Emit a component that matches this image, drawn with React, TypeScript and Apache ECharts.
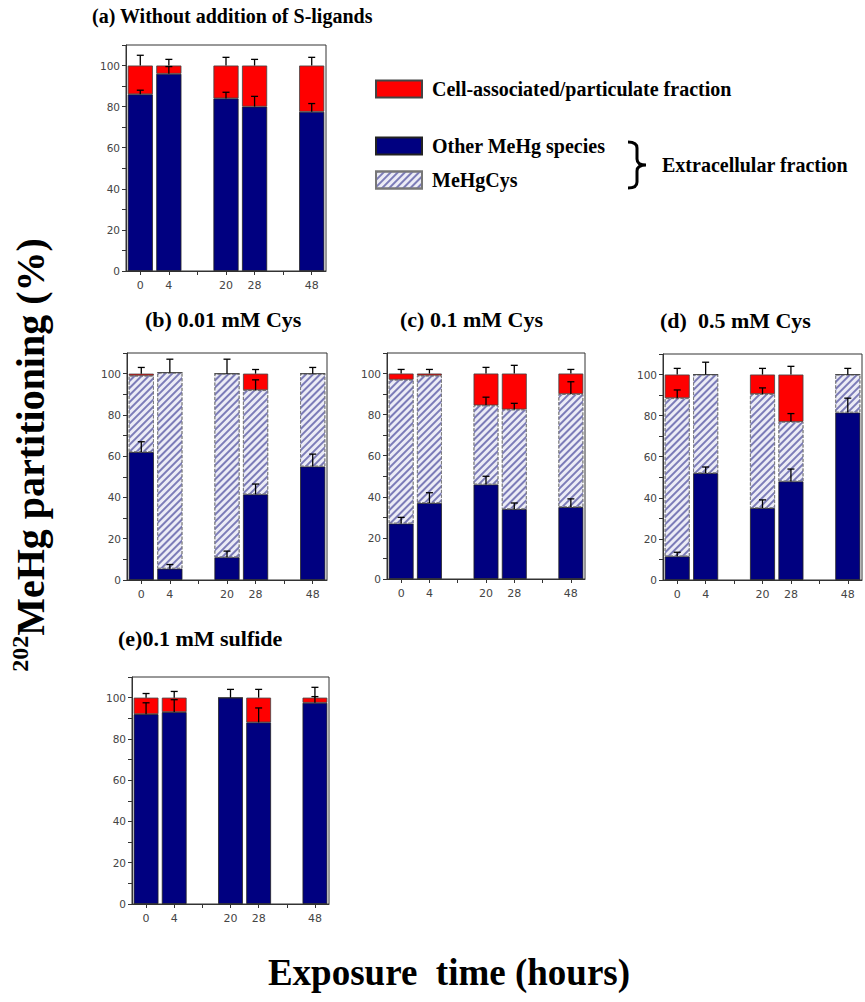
import React, { useEffect, useRef } from 'react';
import * as echarts from 'echarts';

// ---- categories (exposure time, hours); empty slots are the gaps ----
const CATEGORIES = ['0', '4', '', '20', '28', '', '48'];

// ---- (a) Without addition of S-ligands ----
const otherA = [86, 96, null, 84, 80, null, 77.5];
const cysA = [null, null, null, null, null, null, null];
const cellA = [14, 4, null, 16, 20, null, 22.5];
const otherErrA = [2, 3.5, null, 3, 5, null, 4];
const cysErrA = [null, null, null, null, null, null, null];
const cellErrA = [5, 3, null, 4, 3, null, 4];

// ---- (b) 0.01 mM Cys ----
const otherB = [62, 5.5, null, 11, 41.5, null, 55];
const cysB = [37, 95, null, 89, 50.5, null, 45];
const cellB = [1, 0, null, 0, 8, null, 0];
const otherErrB = [5, 2, null, 3, 5, null, 6];
const cysErrB = [null, 6.5, null, 7, 5, null, 3];
const cellErrB = [3, null, null, null, 2, null, null];

// ---- (c) 0.1 mM Cys ----
const otherC = [27, 37, null, 46, 34, null, 35];
const cysC = [70, 62, null, 38.5, 48.5, null, 55];
const cellC = [3, 1, null, 15.5, 17.5, null, 10];
const otherErrC = [3, 5, null, 4, 3, null, 4];
const cysErrC = [null, null, null, 4, 3, null, 6];
const cellErrC = [2, 2, null, 3, 4, null, 2];

// ---- (d) 0.5 mM Cys ----
const otherD = [11.5, 52, null, 35, 48, null, 81.5];
const cysD = [77, 48, null, 55.5, 29, null, 18.5];
const cellD = [11.5, 0, null, 9.5, 23, null, 0];
const otherErrD = [2, 3, null, 4, 6, null, 7];
const cysErrD = [4, 6, null, 3, 4, null, 3];
const cellErrD = [3, null, null, 3, 4, null, null];

// ---- (e) 0.1 mM sulfide ----
const otherE = [92, 93, null, 100, 88, null, 97.5];
const cysE = [null, null, null, null, null, null, null];
const cellE = [8, 7, null, 0, 12, null, 2.5];
const otherErrE = [5.5, 6, null, 4, 7, null, 3];
const cysErrE = [null, null, null, null, null, null, null];
const cellErrE = [2, 3, null, null, 4, null, 5];

const PANEL_TITLES = [
  '(a) Without addition of S-ligands',
  '(b) 0.01 mM Cys',
  '(c) 0.1 mM Cys',
  '(d)  0.5 mM Cys',
  '(e)0.1 mM sulfide',
];

const NAME_OTHER = 'Other MeHg species';
const NAME_CYS = 'MeHgCys';
const NAME_CELL = 'Cell-associated/particulate fraction';

const PANELS = [
  { other: otherA, cys: cysA, cell: cellA, eo: otherErrA, ec: cysErrA, ee: cellErrA, hasCys: false },
  { other: otherB, cys: cysB, cell: cellB, eo: otherErrB, ec: cysErrB, ee: cellErrB, hasCys: true },
  { other: otherC, cys: cysC, cell: cellC, eo: otherErrC, ec: cysErrC, ee: cellErrC, hasCys: true },
  { other: otherD, cys: cysD, cell: cellD, eo: otherErrD, ec: cysErrD, ee: cellErrD, hasCys: true },
  { other: otherE, cys: cysE, cell: cellE, eo: otherErrE, ec: cysErrE, ee: cellErrE, hasCys: false },
];

// layout (pixels)
const GRIDS = [
  { left: 126, top: 45, width: 200, height: 226 },
  { left: 127, top: 353, width: 200, height: 227 },
  { left: 387, top: 353, width: 198, height: 226 },
  { left: 663, top: 354, width: 199, height: 226 },
  { left: 132, top: 677, width: 197, height: 227 },
];
const TITLE_POS = [
  { x: 92, y: 16, size: 20, align: 'left' },
  { x: 145, y: 319, size: 22, align: 'left' },
  { x: 400, y: 319, size: 22, align: 'left' },
  { x: 660, y: 320, size: 22, align: 'left' },
  { x: 118, y: 638, size: 22, align: 'left' },
];

const SERIF = '"Liberation Serif", "Times New Roman", serif';
const SANS = '"DejaVu Sans", Verdana, sans-serif';
const NAVY = '#000080';
const RED = '#ff0000';

const hatchDecal = {
  symbol: 'rect',
  symbolSize: 1,
  color: '#7c7cb8',
  dashArrayX: [1, 0],
  dashArrayY: [1.2, 2.2],
  rotation: -Math.PI / 4,
};

echarts.graphic.registerShape(
  'brace',
  echarts.graphic.extendPath('M0 0 Q9 0 9 6 L9 17 Q9 23 18 23 Q9 23 9 29 L9 40 Q9 46 0 46', {})
);

function dash(v: number | null) {
  return v === null ? '-' : v;
}

function errorRender(params: any, api: any) {
  const x = api.value(0);
  const y0 = api.value(1);
  const y1 = api.value(2);
  const p0 = api.coord([x, y0]);
  const p1 = api.coord([x, y1]);
  const st = { stroke: '#000', lineWidth: 1.3 };
  return {
    type: 'group',
    children: [
      { type: 'line', shape: { x1: p0[0], y1: p0[1], x2: p1[0], y2: p1[1] }, style: st },
      { type: 'line', shape: { x1: p1[0] - 3.5, y1: p1[1], x2: p1[0] + 3.5, y2: p1[1] }, style: st },
    ],
  };
}

function buildOption() {
  const grid: any[] = [];
  const xAxis: any[] = [];
  const yAxis: any[] = [];
  const series: any[] = [];

  PANELS.forEach((p, i) => {
    grid.push({
      ...GRIDS[i],
      show: true,
      borderColor: '#333',
      borderWidth: 1,
      backgroundColor: 'transparent',
      outerBoundsMode: 'none',
    });
    xAxis.push({
      type: 'category',
      gridIndex: i,
      data: CATEGORIES,
      axisLine: { show: true, lineStyle: { color: '#333', width: 1 } },
      axisTick: { show: true, alignWithLabel: true, interval: 0, length: 4, lineStyle: { color: '#333' } },
      axisLabel: { interval: 0, fontSize: 11, color: '#444', fontFamily: SANS, margin: 9 },
      splitLine: { show: false },
    });
    yAxis.push({
      type: 'value',
      gridIndex: i,
      min: 0,
      max: 110,
      interval: 10,
      axisLine: { show: true, lineStyle: { color: '#333', width: 1 } },
      axisTick: { show: true, length: 4, lineStyle: { color: '#333' } },
      axisLabel: {
        formatter: (v: number) => (v % 20 === 0 && v <= 100 ? String(v) : ''),
        fontSize: 10.5,
        color: '#444',
        fontFamily: SANS,
        margin: 6,
      },
      splitLine: { show: false },
    });

    const common = {
      type: 'bar',
      xAxisIndex: i,
      yAxisIndex: i,
      stack: 'p' + i,
      barCategoryGap: '12%',
      silent: true,
    };
    series.push({
      ...common,
      name: NAME_OTHER,
      data: p.other.map(dash),
      itemStyle: { color: NAVY, borderColor: '#222', borderWidth: 0.8 },
    });
    if (p.hasCys) {
      series.push({
        ...common,
        name: NAME_CYS,
        data: p.cys.map(dash),
        itemStyle: { color: '#ececf6', borderColor: '#777', borderWidth: 0.8, borderType: 'dashed', decal: hatchDecal },
      });
    }
    series.push({
      ...common,
      name: NAME_CELL,
      data: p.cell.map(dash),
      itemStyle: { color: RED, borderColor: '#444', borderWidth: 0.8 },
    });

    const err: any[] = [];
    CATEGORIES.forEach((_, k) => {
      const o = p.other[k];
      if (o === null) return;
      const c = p.hasCys ? (p.cys[k] as number) : 0;
      const e = p.cell[k] as number;
      const topO = o;
      const topC = o + c;
      const topE = o + c + e;
      if (p.eo[k] !== null) err.push([k, topO, topO + (p.eo[k] as number)]);
      if (p.ec[k] !== null) err.push([k, topC, topC + (p.ec[k] as number)]);
      if (p.ee[k] !== null) err.push([k, topE, topE + (p.ee[k] as number)]);
    });
    series.push({
      type: 'custom',
      xAxisIndex: i,
      yAxisIndex: i,
      renderItem: errorRender,
      data: err,
      encode: { x: 0, y: [1, 2] },
      z: 10,
      silent: true,
    });
  });

  const legendText = { fontFamily: SERIF, fontWeight: 'bold', fontSize: 20, color: '#000', padding: [0, 0, 0, 5] };
  const legendBase = { orient: 'vertical', padding: 0, itemWidth: 46, itemHeight: 17, selectedMode: false, icon: 'rect', textStyle: legendText };
  const legend = [
    { ...legendBase, data: [NAME_CELL], left: 375, top: 79 },
    { ...legendBase, data: [NAME_OTHER], left: 375, top: 136 },
    { ...legendBase, data: [NAME_CYS], left: 375, top: 170 },
  ];

  const graphic: any[] = [];
  PANEL_TITLES.forEach((t, i) => {
    const tp = TITLE_POS[i];
    graphic.push({
      type: 'text',
      x: tp.x,
      y: tp.y,
      style: {
        text: t,
        fontFamily: SERIF,
        fontWeight: 'bold',
        fontSize: tp.size,
        fill: '#000',
        textAlign: tp.align,
        textVerticalAlign: 'middle',
      },
    });
  });
  graphic.push({
    type: 'brace',
    x: 628,
    y: 142,
    style: { stroke: '#000', lineWidth: 3, fill: 'none' },
  });
  graphic.push({
    type: 'text',
    x: 662,
    y: 165,
    style: { text: 'Extracellular fraction', fontFamily: SERIF, fontWeight: 'bold', fontSize: 20, fill: '#000', textVerticalAlign: 'middle' },
  });
  graphic.push({
    type: 'text',
    x: 449,
    y: 972,
    style: { text: 'Exposure  time (hours)', fontFamily: SERIF, fontWeight: 'bold', fontSize: 37, fill: '#000', textAlign: 'center', textVerticalAlign: 'middle' },
  });
  graphic.push({
    type: 'text',
    x: 30,
    y: 455,
    rotation: Math.PI / 2,
    style: {
      text: '{sup|202}{main|MeHg partitioning (%)}',
      fontFamily: SERIF,
      fontWeight: 'bold',
      fill: '#000',
      textAlign: 'center',
      textVerticalAlign: 'middle',
      rich: {
        sup: { fontFamily: SERIF, fontWeight: 'bold', fontSize: 24, lineHeight: 44, verticalAlign: 'top', fill: '#000' },
        main: { fontFamily: SERIF, fontWeight: 'bold', fontSize: 40, lineHeight: 44, fill: '#000' },
      },
    },
  });

  return { animation: false, backgroundColor: '#fff', grid, xAxis, yAxis, series, legend, graphic };
}

export default function App() {
  const ref = useRef<HTMLDivElement>(null);
  useEffect(() => {
    document.body.style.margin = '0';
    if (!ref.current) return;
    const chart = echarts.init(ref.current, undefined, { renderer: 'svg' });
    chart.setOption(buildOption() as any);
    return () => chart.dispose();
  }, []);
  return <div ref={ref} style={{ width: 865, height: 1002 }} />;
}
